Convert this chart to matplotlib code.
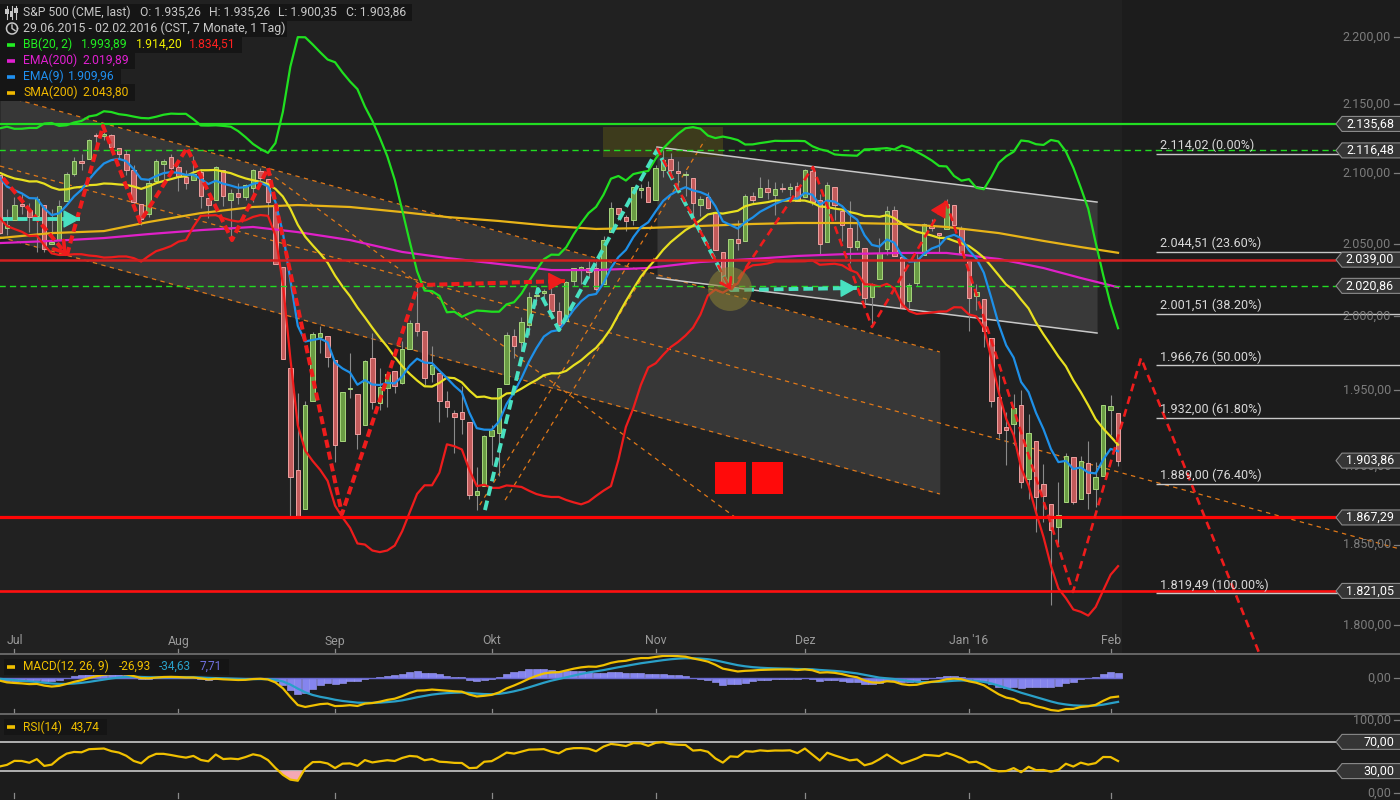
import numpy as np
import pandas as pd
import matplotlib
matplotlib.use("Agg")
import matplotlib.pyplot as plt
from matplotlib.patches import Rectangle, Polygon
from matplotlib.lines import Line2D
import matplotlib.transforms as mtransforms
from matplotlib.ticker import NullLocator

plt.rcParams['font.family'] = ['Roboto', 'DejaVu Sans']

# ----------------------------------------------------------------- data
holidays = ['2015-07-03', '2015-09-07', '2015-11-26', '2015-12-25', '2016-01-01', '2016-01-18']
dates = [d for d in pd.bdate_range('2015-06-29', '2016-02-02') if d.strftime('%Y-%m-%d') not in holidays]
month_labels = ['Jul', 'Aug', 'Sep', 'Okt', 'Nov', 'Dez', "Jan '16", 'Feb']

opens = [2098.63, 2061.19,
         2067.00, 2078.03, 2073.95, 2069.52, 2077.66, 2049.73, 2052.74, 2080.03, 2099.72, 2109.07, 2110.55,
         2126.80, 2126.85, 2127.55, 2118.21, 2114.16, 2102.24, 2078.19, 2070.75, 2094.70, 2106.78, 2111.60,
         2104.49, 2097.68, 2095.27, 2100.75, 2082.61, 2080.98, 2102.66, 2081.10, 2086.19, 2083.15, 2089.70,
         2101.99, 2095.69, 2076.61, 2034.08, 1965.15, 1898.08, 1872.75, 1942.77, 1986.06, 1986.73,
         1970.09, 1916.52, 1950.79, 1947.76, 1927.30, 1971.45, 1941.59, 1951.45, 1963.06, 1955.10, 1978.02,
         1995.33, 1989.66, 1960.84, 1961.39, 1943.24, 1934.81, 1935.93, 1929.18, 1881.90, 1887.14,
         1919.65, 1921.77, 1954.33, 1986.63, 1982.34, 1994.01, 2013.73, 2015.65, 2015.00, 2003.66, 1996.47,
         2024.37, 2031.73, 2033.13, 2033.47, 2021.88, 2058.19, 2075.08, 2068.75, 2066.48, 2088.35, 2090.00,
         2080.76, 2102.63, 2110.60, 2101.68, 2098.60, 2096.56, 2077.19, 2083.41, 2072.29, 2044.64, 2022.08,
         2053.67, 2051.99, 2083.70, 2082.82, 2089.41, 2084.42, 2089.30, 2088.82, 2090.95,
         2082.93, 2101.71, 2080.71, 2051.24, 2090.42, 2073.39, 2061.17, 2047.93, 2047.27, 2013.37, 2025.55,
         2046.50, 2073.76, 2040.81, 2010.27, 2023.15, 2042.20, 2063.52, 2057.77, 2060.54, 2077.34, 2060.59,
         2038.20, 2013.78, 2011.71, 1985.32, 1945.97, 1926.12, 1927.83, 1940.34, 1891.68, 1916.68, 1888.66,
         1876.18, 1861.46, 1877.40, 1906.28, 1878.79, 1902.52, 1885.22, 1894.00,
         1936.94, 1935.26]
highs = [2098.63, 2074.28,
         2082.78, 2085.06, 2078.61, 2083.74, 2077.66, 2074.28, 2081.31, 2100.67, 2111.98, 2114.14, 2124.42,
         2128.91, 2132.82, 2128.49, 2118.51, 2116.87, 2106.01, 2078.19, 2095.60, 2110.60, 2110.48, 2114.24,
         2105.70, 2102.51, 2112.66, 2103.32, 2082.61, 2105.35, 2102.66, 2089.06, 2092.93, 2092.45, 2102.87,
         2103.47, 2096.17, 2076.61, 2034.08, 1965.15, 1948.04, 1943.09, 1989.60, 1993.48, 1986.73,
         1970.09, 1948.91, 1975.01, 1947.76, 1970.42, 1988.63, 1965.29, 1961.05, 1963.06, 1983.19, 1997.26,
         2020.86, 1989.66, 1979.64, 1961.39, 1949.52, 1937.17, 1952.89, 1929.18, 1899.48, 1920.53,
         1927.21, 1951.36, 1989.17, 1991.62, 1999.31, 2016.50, 2020.13, 2018.66, 2022.34, 2009.56, 2024.15,
         2033.54, 2034.45, 2039.12, 2037.97, 2055.20, 2079.74, 2075.14, 2070.37, 2090.35, 2092.52, 2094.32,
         2106.20, 2116.48, 2114.59, 2108.78, 2101.91, 2096.56, 2083.67, 2086.94, 2072.29, 2044.64, 2053.22,
         2066.69, 2085.31, 2086.74, 2097.06, 2095.61, 2094.12, 2093.00, 2093.29, 2093.81,
         2103.37, 2104.27, 2085.00, 2093.84, 2090.42, 2073.85, 2080.33, 2067.65, 2047.27, 2022.92, 2053.87,
         2076.72, 2076.37, 2040.81, 2022.90, 2042.74, 2064.73, 2067.36, 2057.77, 2081.56, 2077.34, 2062.54,
         2038.20, 2021.94, 2011.71, 1985.32, 1960.40, 1935.65, 1947.38, 1950.33, 1934.47, 1916.68, 1901.44,
         1876.18, 1889.85, 1908.85, 1906.28, 1906.73, 1916.98, 1902.96, 1940.24,
         1947.20, 1935.26]
lows = [2056.64, 2056.32,
        2067.00, 2071.02, 2058.40, 2044.02, 2044.66, 2049.73, 2052.74, 2080.03, 2098.18, 2102.49, 2110.55,
        2119.88, 2123.66, 2115.40, 2110.00, 2098.63, 2077.09, 2063.52, 2069.09, 2094.08, 2094.97, 2102.07,
        2087.31, 2088.60, 2095.27, 2075.53, 2067.91, 2080.98, 2076.49, 2052.09, 2078.26, 2080.61, 2079.30,
        2094.14, 2070.53, 2035.73, 1970.89, 1867.01, 1867.08, 1872.75, 1942.77, 1975.19, 1965.98,
        1903.07, 1916.52, 1944.72, 1911.21, 1927.30, 1937.88, 1937.19, 1939.19, 1948.27, 1954.30, 1977.93,
        1986.73, 1953.45, 1955.80, 1929.22, 1932.57, 1908.92, 1921.50, 1879.21, 1871.91, 1887.14,
        1900.70, 1893.70, 1954.33, 1971.99, 1976.44, 1987.53, 2007.61, 2010.55, 2001.78, 1990.73, 1996.47,
        2020.46, 2022.31, 2026.61, 2017.22, 2021.88, 2058.19, 2066.53, 2058.84, 2063.11, 2082.63, 2079.34,
        2080.76, 2097.51, 2096.98, 2090.41, 2083.74, 2068.24, 2069.91, 2074.85, 2045.66, 2022.02, 2019.94,
        2045.90, 2051.99, 2078.76, 2082.82, 2081.39, 2070.29, 2086.30, 2084.13, 2080.41,
        2082.93, 2077.11, 2042.35, 2051.24, 2066.78, 2052.32, 2036.53, 2045.67, 2008.80, 1993.26, 2025.55,
        2042.43, 2041.66, 2005.33, 2005.93, 2020.49, 2042.20, 2058.73, 2044.20, 2060.54, 2061.97, 2043.62,
        1989.68, 2004.17, 1979.05, 1938.83, 1918.46, 1901.10, 1914.35, 1886.41, 1878.93, 1857.83, 1864.60,
        1812.29, 1848.98, 1877.40, 1875.97, 1878.79, 1872.70, 1873.65, 1894.00,
        1920.30, 1900.35]
closes = [2057.64, 2063.11,
          2077.42, 2076.78, 2068.76, 2081.34, 2046.68, 2051.31, 2076.62, 2099.60, 2108.95, 2107.40, 2124.29,
          2126.64, 2128.28, 2119.21, 2114.15, 2102.15, 2079.65, 2067.64, 2093.25, 2108.57, 2108.63, 2103.84,
          2098.04, 2093.32, 2099.84, 2083.56, 2077.57, 2104.18, 2084.07, 2086.05, 2083.39, 2091.54, 2102.44,
          2096.92, 2079.61, 2035.73, 1970.89, 1893.21, 1867.61, 1940.51, 1987.66, 1988.87, 1972.18,
          1913.85, 1948.86, 1951.13, 1921.22, 1969.41, 1942.04, 1952.29, 1961.05, 1953.03, 1978.09, 1995.31,
          1990.20, 1958.03, 1966.97, 1942.74, 1938.76, 1932.24, 1931.34, 1881.77, 1884.09, 1920.03,
          1923.82, 1951.36, 1987.05, 1979.92, 1995.83, 2013.43, 2014.89, 2017.46, 2003.69, 1994.24, 2023.86,
          2033.11, 2033.66, 2030.77, 2018.94, 2052.51, 2075.15, 2071.18, 2065.89, 2090.35, 2089.41, 2079.36,
          2104.05, 2109.79, 2102.31, 2099.93, 2099.20, 2078.58, 2081.72, 2075.00, 2045.97, 2023.04, 2053.19,
          2050.44, 2083.58, 2081.24, 2089.17, 2086.59, 2089.14, 2088.87, 2090.11, 2080.41,
          2102.63, 2079.51, 2049.62, 2091.69, 2077.07, 2063.59, 2047.62, 2052.23, 2012.37, 2021.94, 2043.41,
          2073.07, 2041.89, 2005.55, 2021.15, 2038.97, 2064.29, 2060.99, 2056.50, 2078.36, 2063.36, 2043.94,
          2012.66, 2016.71, 1990.26, 1943.09, 1922.03, 1923.67, 1938.68, 1890.28, 1921.84, 1880.33, 1881.33,
          1859.33, 1868.99, 1906.90, 1877.08, 1903.63, 1882.95, 1893.36, 1940.24,
          1939.38, 1903.86]

# closes before the visible window (needed to warm up BB / EMA / MACD / RSI)
prehistory_closes = [2108.29, 2114.49, 2089.46, 2080.15, 2088.00, 2116.10, 2105.33, 2099.12, 2098.48, 2121.10,
                     2122.73, 2129.20, 2127.83, 2125.85, 2130.82, 2126.06, 2104.20, 2123.48, 2120.79, 2107.39,
                     2111.73, 2109.60, 2114.07, 2095.84, 2092.83, 2079.28, 2080.15, 2105.20, 2108.86, 2094.11,
                     2084.43, 2096.29, 2100.44, 2121.24, 2109.99, 2122.85, 2124.20, 2108.58, 2102.31, 2101.49]

# long averages (at these bar numbers)
ma_bars = [0, 7, 14, 20, 27, 34, 40, 47, 54, 60, 67, 74, 80, 87, 94, 101, 107, 114, 121, 127, 134, 140, 145, 150]
sma200_vals = [2054.1, 2057.6, 2059.0, 2065.4, 2071.7, 2076.0, 2077.4, 2076.0, 2072.4, 2068.9, 2066.1, 2062.6,
               2060.5, 2061.2, 2062.6, 2064.0, 2064.7, 2064.7, 2064.0, 2061.9, 2057.6, 2052.1, 2047.8, 2043.80]
ema200_vals = [2050.6, 2052.1, 2054.1, 2056.9, 2059.7, 2061.9, 2058.3, 2052.7, 2044.4, 2040.2, 2036.0, 2031.8,
               2031.8, 2033.2, 2037.4, 2039.5, 2041.6, 2043.0, 2043.7, 2043.7, 2039.5, 2033.2, 2026.3, 2019.89]

# legend values as printed on the chart
bb_legend = ['1.993,89', '1.914,20', '1.834,51']
ohlc_legend = ['O: 1.935,26', 'H: 1.935,26', 'L: 1.900,35', 'C: 1.903,86']

# horizontal levels
solid_levels = [2135.68, 2039.00, 1867.29, 1821.05]
solid_colors = ['#22dd22', '#d42020', '#ff0606', '#ff1010']
solid_widths = [1.6, 1.8, 2.3, 1.9]
dashed_levels = [2116.48, 2020.86]
tag_levels = [2135.68, 2116.48, 2039.00, 2020.86, 1903.86, 1867.29, 1821.05]
fib_levels = [2114.02, 2044.51, 2001.51, 1966.76, 1932.00, 1889.00, 1819.49]
fib_pcts = ['0.00%', '23.60%', '38.20%', '50.00%', '61.80%', '76.40%', '100.00%']
price_ticks = [1800, 1850, 1900, 1950, 2000, 2050, 2100, 2150, 2200]

# drawings (bar number, price)
channel1_bars = [0.07, 126.1]
channel1_upper = [2156.9, 1975.8]
channel1_lower = [2054.8, 1882.3]
midline_bars = [0.07, 187.8]
midline_prices = [2105.2, 1847.3]
steep_bars = [36.0, 98.6]
steep_prices = [2100.9, 1867.6]
riseA_bars = [64.4, 94.6]
riseA_prices = [1875.2, 2124.0]
riseB_bars = [67.8, 87.9]
riseB_prices = [1878.4, 2040.9]
channel2_bars = [88.17, 147.18]
channel2_upper = [2118.9, 2079.5]
channel2_lower = [2026.3, 1988.6]
box_bars = [80.93, 97.02]
box_prices = [2111.7, 2133.4]
circle_bar, circle_price = 97.96, 2018.7
squares_bars = [[95.95, 100.11], [100.91, 105.07]]
squares_prices = [1882.3, 1903.0]

zz_a_bars = [0.47, 9.05]
zz_a_prices = [2096.6, 2042.3]
zz_b_bars = [9.05, 13.88, 18.84, 25.14, 31.18, 36.01, 45.93, 56.12, 75.83]
zz_b_prices = [2042.3, 2134.2, 2065.4, 2118.2, 2052.7, 2103.8, 1869.5, 2021.4, 2024.2]
zz_c_bars = [88.17, 98.09]
zz_c_prices = [2118.2, 2018.0]
zz_d_bars = [98.09, 109.09, 117.0, 126.93]
zz_d_prices = [2018.0, 2104.5, 1992.7, 2080.3]
zz_e_bars = [126.93, 143.96, 153.08, 169.3]
zz_e_prices = [2080.3, 1820.4, 1971.7, 1778.6]
cy_a_bars = [0.47, 10.8]
cy_a_prices = [2067.5, 2067.5]
cy_b_bars = [65.1, 72.21, 75.03, 88.17, 98.09, 115.0]
cy_b_prices = [1872.0, 2018.7, 1990.6, 2116.8, 2018.0, 2019.4]

# ----------------------------------------------------------- indicators
c_all = pd.Series(prehistory_closes + closes)
n0 = len(prehistory_closes)
bb_mid_s = c_all.rolling(20).mean()
bb_sd = c_all.rolling(20).std(ddof=0)
bb_up = (bb_mid_s + 2 * bb_sd).values[n0:]
bb_lo = (bb_mid_s - 2 * bb_sd).values[n0:]
bb_mid = bb_mid_s.values[n0:]
ema9 = c_all.ewm(span=9, adjust=False).mean().values[n0:]
macd_s = c_all.ewm(span=12, adjust=False).mean() - c_all.ewm(span=26, adjust=False).mean()
sig_s = macd_s.ewm(span=9, adjust=False).mean()
macd = macd_s.values[n0:]
signal = sig_s.values[n0:]
hist = macd - signal
delta = c_all.diff()
gain = delta.clip(lower=0).ewm(alpha=1 / 14, adjust=False).mean()
loss = (-delta.clip(upper=0)).ewm(alpha=1 / 14, adjust=False).mean()
rsi = (100 - 100 / (1 + gain / loss)).values[n0:]

# ----------------------------------------------------------------- figure
BG = '#1c1c1c'
DATA_BG = '#212121'
W, H = 1400.0, 800.0
BAR_PX = 7.457
X0, X1 = 0.5 / BAR_PX, 1400.5 / BAR_PX
LEG_FS = 8.7


def fx(v):
    return v / W


def fy(v):
    return 1.0 - v / H


def de(v):
    s = f"{v:,.2f}"
    return s.replace(',', 'X').replace('.', ',').replace('X', '.')


fig = plt.figure(figsize=(14, 8), dpi=100, facecolor=BG)
ax = fig.add_axes([0, fy(654), 1, 654 / H])
axm = fig.add_axes([0, fy(714), 1, 60 / H])
axr = fig.add_axes([0, 0, 1, 86 / H])
for a in (ax, axm, axr):
    a.set_facecolor(BG)
    for s in a.spines.values():
        s.set_visible(False)
    a.set_xlim(X0, X1)
ax.set_yscale('log')
ax.set_ylim(1782.27, 2227.96)
axm.set_ylim(-52.2, 34.8)
axr.set_ylim(-9.6, 108.2)
for a in (ax, axm, axr):
    a.set_xticks([])
    a.set_yticks([])
    a.yaxis.set_minor_locator(NullLocator())
    a.xaxis.set_minor_locator(NullLocator())

x = np.arange(len(closes))
o, h, l, c = map(np.array, (opens, highs, lows, closes))

ax.axvspan(X0 - 1, len(closes) - 0.45, color=DATA_BG, lw=0, zorder=0)

# channels
ax.fill_between(channel1_bars, channel1_lower, channel1_upper, color='white', alpha=0.10, lw=0, zorder=1)
ax.fill_between(channel2_bars, channel2_lower, channel2_upper, color='white', alpha=0.11, lw=0, zorder=1)
ax.plot(channel2_bars, channel2_upper, color='#c8c8c8', lw=1.1, zorder=2.5)
ax.plot(channel2_bars, channel2_lower, color='#c8c8c8', lw=1.1, zorder=2.5)
ax.add_patch(Rectangle((box_bars[0], box_prices[0]), box_bars[1] - box_bars[0], box_prices[1] - box_prices[0],
                       facecolor='#3d3b1c', edgecolor='none', zorder=1.5))
od = dict(color='#e07818', lw=0.9, linestyle=(0, (3.5, 3.5)), zorder=2)
for bx, py in [(channel1_bars, channel1_upper), (channel1_bars, channel1_lower), (midline_bars, midline_prices),
               (steep_bars, steep_prices), (riseA_bars, riseA_prices), (riseB_bars, riseB_prices)]:
    ax.plot(bx, py, **od)

# candles
up = c >= o
ax.vlines(x, l, h, color='#8a8a8a', lw=0.8, zorder=3)
body_lo = np.minimum(o, c)
body_h = np.maximum(np.abs(c - o), 0.7)
ax.bar(x[up], body_h[up], bottom=body_lo[up], width=0.6, color='#6a9c44', edgecolor='#a6d67c', lw=0.7, zorder=3.5)
ax.bar(x[~up], body_h[~up], bottom=body_lo[~up], width=0.6, color='#c25b5b', edgecolor='#f0a0a0', lw=0.7,
       zorder=3.5)

# indicators
ax.plot(ma_bars, sma200_vals, color='#e8b418', lw=1.6, zorder=4)
ax.plot(ma_bars, ema200_vals, color='#e020c8', lw=1.6, zorder=4)
ax.plot(x, bb_up, color='#20e020', lw=1.6, zorder=4)
ax.plot(x, bb_mid, color='#e8e020', lw=1.6, zorder=4)
ax.plot(x, bb_lo, color='#ee1c1c', lw=1.6, zorder=4)
ax.plot(x, ema9, color='#1e90e8', lw=1.6, zorder=4.5)

# horizontal levels
HL_END = 1336.5 / BAR_PX
for lv, col, lw in zip(solid_levels, solid_colors, solid_widths):
    ax.hlines(lv, X0 - 1, HL_END, color=col, lw=lw, zorder=5)
for lv in dashed_levels:
    ax.hlines(lv, X0 - 1, HL_END, color='#22dd22', lw=1.0, linestyle=(0, (4.5, 3)), zorder=5)
FIB_X = 1156.5 / BAR_PX
for lv, pc in zip(fib_levels, fib_pcts):
    ax.hlines(lv, FIB_X, X1 + 1, color='#c8c8c8', lw=1.0, zorder=5)
    ax.annotate(f"{de(lv)} ({pc})", (FIB_X + 0.5, lv), xytext=(0, 1.2), textcoords='offset points',
                color='#d8d8d8', fontsize=9.1, va='bottom', ha='left', zorder=8)


# drawings
def head(bx, py, color, filled, lw, ms):
    x1, y1 = bx[-1], py[-1]
    xa, ya = bx[-2], py[-2]
    t = 0.04
    x0 = x1 - t * (x1 - xa)
    y0 = y1 * (ya / y1) ** t
    style = '-|>,head_length=0.55,head_width=0.3' if filled else '->,head_length=0.45,head_width=0.3'
    ax.annotate('', xy=(x1, y1), xytext=(x0, y0),
                arrowprops=dict(arrowstyle=style, color=color, lw=lw, mutation_scale=ms,
                                shrinkA=0, shrinkB=0), zorder=7)


RED = '#ee1c1c'
CY = '#48e0c0'
zd1 = dict(color=RED, lw=2.9, linestyle=(0, (2, 1)), zorder=6, dash_capstyle='butt')
zd2 = dict(color=RED, lw=1.9, linestyle=(0, (3, 2)), zorder=6, dash_capstyle='butt')
cyd = dict(color=CY, lw=2.8, linestyle=(0, (2.5, 1.3)), zorder=6, dash_capstyle='butt')
ax.plot(zz_a_bars, zz_a_prices, **zd1)
head(zz_a_bars, zz_a_prices, RED, False, 2.6, 16)
ax.plot(zz_b_bars, zz_b_prices, **zd1)
head(zz_b_bars, zz_b_prices, RED, True, 1, 19)
ax.plot(cy_a_bars, cy_a_prices, **cyd)
head(cy_a_bars, cy_a_prices, CY, True, 1, 19)
ax.plot(cy_b_bars, cy_b_prices, **cyd)
head(cy_b_bars, cy_b_prices, CY, True, 1, 19)
ax.plot(zz_c_bars, zz_c_prices, **zd2)
head(zz_c_bars, zz_c_prices, RED, False, 2.0, 14)
ax.plot(zz_d_bars, zz_d_prices, **zd2)
head(zz_d_bars, zz_d_prices, RED, True, 1, 18)
ax.plot(zz_e_bars, zz_e_prices, **zd2)

ax.scatter([circle_bar], [circle_price], s=1000, color='#8c8234', alpha=0.55, edgecolors='none', zorder=6.5)
for sb in squares_bars:
    ax.add_patch(Rectangle((sb[0], squares_prices[0]), sb[1] - sb[0], squares_prices[1] - squares_prices[0],
                           facecolor='#ff0a0a', edgecolor='none', zorder=7))

# ---------------------------------------------------------------- MACD
axm.bar(x, hist, width=0.95, color='#8585ee', edgecolor='#a0a0ff', lw=0.4, zorder=2)
axm.hlines(0, X0 - 1, len(closes) - 0.5, color='#6a6ad0', lw=1.0, zorder=2.5)
axm.plot(x, signal, color='#2aa0c8', lw=1.6, zorder=3)
axm.plot(x, macd, color='#f0c000', lw=1.6, zorder=3.5)

# ---------------------------------------------------------------- RSI
axr.hlines([70, 30], X0 - 1, HL_END, color='#d8d8d8', lw=1.1, zorder=2)
axr.fill_between(x, rsi, 30, where=rsi < 30, interpolate=True, color='#f4a8b4', lw=0, zorder=2.5)
axr.plot(x, rsi, color='#f0c000', lw=1.6, zorder=3)

# ------------------------------------------------------------ month ticks
month_idx = [i for i in range(1, len(dates)) if dates[i].month != dates[i - 1].month]
for a, y_lab, t0, t1, total in [(ax, 641, 649, 653, 654), (axm, None, 709, 713, 60), (axr, None, 793, 798, 86)]:
    top = {ax: 0, axm: 654, axr: 714}[a]
    tr = mtransforms.blended_transform_factory(a.transData, a.transAxes)
    for k, mi in enumerate(month_idx):
        a.plot([mi, mi], [1 - (t0 - top) / total, 1 - (t1 - top) / total], transform=tr, color='#8a8a8a',
               lw=0.9, zorder=9, clip_on=False)
        if y_lab is not None:
            a.text(mi, 1 - (y_lab - top) / total, month_labels[k], transform=tr, color='#9a9a9a',
                   fontsize=8.8, ha='center', va='center', zorder=9)

for yy in (654, 714):
    fig.add_artist(Line2D([0, 1], [fy(yy), fy(yy)], transform=fig.transFigure, color='#6c6c6c', lw=1.3))


# --------------------------------------------------------- right scale
def axis_label(a, val, txt):
    tr = mtransforms.blended_transform_factory(a.transAxes, a.transData)
    a.text(1391 / W, val, txt, transform=tr, color='#7c7c7c', fontsize=9, ha='right', va='center', zorder=9)
    a.plot([1393.5 / W, 1399 / W], [val, val], transform=tr, color='#7c7c7c', lw=0.9, zorder=9, clip_on=False)


for p in price_ticks:
    axis_label(ax, p, de(p))
axis_label(axm, 0, '0,00')
axis_label(axr, 100, '100,00')
axis_label(axr, 0, '0,00')


def tag(a, val, txt):
    yd = a.transData.transform((1.0, val))[1]
    hh = 7.5
    verts = [(1336, yd), (1342, yd + hh), (1401, yd + hh), (1401, yd - hh), (1342, yd - hh)]
    verts = [(vx / W, vy / H) for vx, vy in verts]
    fig.add_artist(Polygon(verts, closed=True, transform=fig.transFigure, facecolor='#353535',
                           edgecolor='#8a8a8a', lw=0.8, zorder=10))
    fig.text(1394 / W, yd / H, txt, color='white', fontsize=9, ha='right', va='center', zorder=11)


for lv in tag_levels:
    tag(ax, lv, de(lv))
tag(axr, 70, '70,00')
tag(axr, 30, '30,00')


# ------------------------------------------------------------- legends
def row(yc, x_end, parts, fs=LEG_FS):
    fig.add_artist(Rectangle((0, fy(yc + 8)), fx(x_end), 16 / H, transform=fig.transFigure,
                             facecolor='#151515', edgecolor='none', zorder=12))
    for xp, s, col in parts:
        fig.text(fx(xp), fy(yc), s, color=col, fontsize=fs, ha='left', va='center', zorder=13)


def dash_icon(yc, col):
    fig.add_artist(Line2D([fx(7), fx(15)], [fy(yc), fy(yc)], transform=fig.transFigure, color=col, lw=2.6,
                          solid_capstyle='butt', zorder=14))


GR = '#c8c8c8'
row(12.5, 412, [(23, 'S&P 500 (CME, last)', GR), (140.5, ohlc_legend[0], GR), (209, ohlc_legend[1], GR),
                (278, ohlc_legend[2], GR), (345.5, ohlc_legend[3], GR)])
row(28.5, 287, [(23, '29.06.2015 - 02.02.2016 (CST, 7 Monate, 1 Tag)', GR)], fs=8.9)
row(44.5, 242, [(23, 'BB(20, 2)', '#22ee22'), (81, bb_legend[0], '#22ee22'), (136, bb_legend[1], '#f0f000'),
                (189, bb_legend[2], '#ff2020')])
row(60.5, 135, [(23, 'EMA(200)', '#e020d0'), (82, de(ema200_vals[-1]), '#e020d0')])
row(76.5, 121, [(23, 'EMA(9)', '#2090f0'), (68, de(ema9[-1]), '#2090f0')])
row(92.5, 135, [(23, 'SMA(200)', '#f0b800'), (82, de(sma200_vals[-1]), '#f0b800')])
dash_icon(44.5, '#22ee22')
dash_icon(60.5, '#e020d0')
dash_icon(76.5, '#2090f0')
dash_icon(92.5, '#f0b800')
# candle icon
for xi, (b0, b1) in zip([7, 11.5, 16], [(9, 14), (11, 17), (8, 13)]):
    fig.add_artist(Line2D([fx(xi), fx(xi)], [fy(6), fy(19)], transform=fig.transFigure, color=GR, lw=0.8,
                          zorder=14))
    fig.add_artist(Rectangle((fx(xi - 1.6), fy(b1)), fx(3.2), (b1 - b0) / H, transform=fig.transFigure,
                             facecolor=GR, edgecolor='none', zorder=14))
# clock icon
th = np.linspace(0, 2 * np.pi, 60)
fig.add_artist(Line2D(fx(12 + 5.5 * np.cos(th)), fy(28.5 + 5.5 * np.sin(th)), transform=fig.transFigure,
                      color=GR, lw=1.1, zorder=14))
fig.add_artist(Line2D([fx(12), fx(12), fx(15)], [fy(25), fy(28.5), fy(30.5)], transform=fig.transFigure,
                      color=GR, lw=1.0, zorder=14))

# MACD legend
fig.add_artist(Rectangle((fx(4), fy(674.5)), fx(225), 16 / H, transform=fig.transFigure,
                         facecolor='#151515', edgecolor='none', zorder=12))
dash_icon(666.5, '#f0c000')
for xp, s, col in [(23, 'MACD(12, 26, 9)', '#f0c000'), (119, de(macd[-1]), '#f0c000'),
                   (159, de(signal[-1]), '#2aa0c8'), (200, de(hist[-1]), '#7070e0')]:
    fig.text(fx(xp), fy(666.5), s, color=col, fontsize=8.6, ha='left', va='center', zorder=13)
# RSI legend
fig.add_artist(Rectangle((fx(4), fy(735)), fx(103), 16 / H, transform=fig.transFigure,
                         facecolor='#151515', edgecolor='none', zorder=12))
dash_icon(727, '#f0c000')
for xp, s, col in [(23, 'RSI(14)', '#f0c000'), (71, de(rsi[-1]), '#f0c000')]:
    fig.text(fx(xp), fy(727), s, color=col, fontsize=8.6, ha='left', va='center', zorder=13)

fig.savefig('out.png', dpi=100, facecolor=BG)
